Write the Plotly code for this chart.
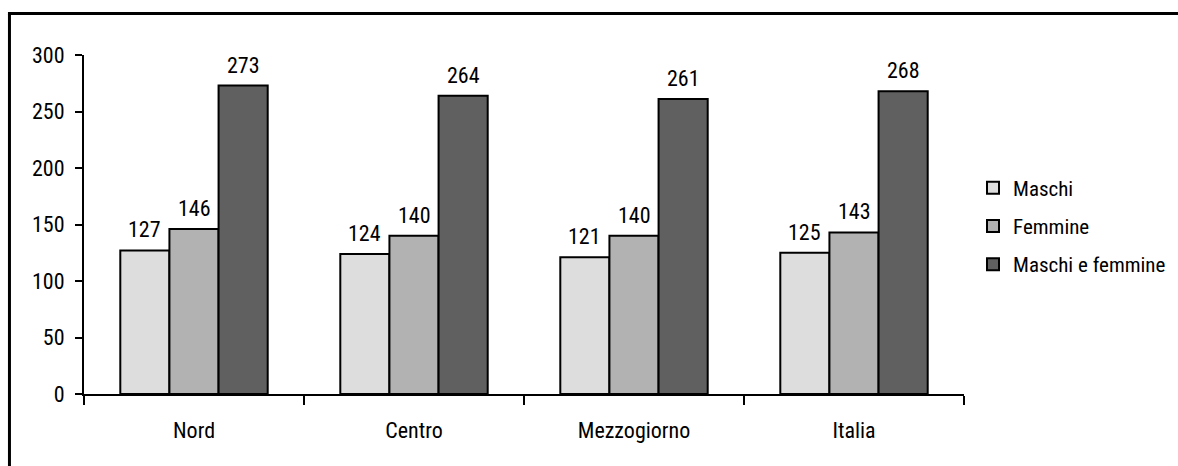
import plotly.graph_objects as go

# Dati per area geografica
aree = ["Nord", "Centro", "Mezzogiorno", "Italia"]
maschi = [127, 124, 121, 125]
femmine = [146, 140, 140, 143]
maschi_e_femmine = [273, 264, 261, 268]

serie = [
    ("Maschi", maschi, "#DDDDDD"),
    ("Femmine", femmine, "#B2B2B2"),
    ("Maschi e femmine", maschi_e_femmine, "#606060"),
]

FONT = "Liberation Sans Narrow, Arial Narrow, Roboto Condensed, Arial, sans-serif"
BARGAP = 0.33

fig = go.Figure()
for i, (nome, valori, colore) in enumerate(serie):
    fig.add_trace(go.Bar(
        name=nome, x=aree, y=valori,
        marker=dict(color=colore, line=dict(color="black", width=2)),
        legendgroup=nome,
    ))

# Etichette dei valori sopra le barre
n = len(serie)
bar_w = (1 - BARGAP) / n
for k, (nome, valori, colore) in enumerate(serie):
    for i, v in enumerate(valori):
        fig.add_annotation(
            x=i + (k - (n - 1) / 2) * bar_w, y=v, xref="x", yref="y",
            text=str(v), showarrow=False, yanchor="bottom", yshift=6,
            font=dict(family=FONT, size=22, color="black"),
        )

# Cornice esterna
fig.add_shape(type="line", xref="paper", yref="paper",
              x0=-0.0847, x1=-0.0847, y0=1.1224, y1=-0.3,
              line=dict(color="black", width=3))
fig.add_shape(type="line", xref="paper", yref="paper",
              x0=-0.0864, x1=1.3, y0=1.1224, y1=1.1224,
              line=dict(color="black", width=3))

fig.update_layout(
    width=1178, height=466,
    margin=dict(l=84, r=214, t=55, b=72, autoexpand=False),
    paper_bgcolor="white", plot_bgcolor="white",
    barmode="group", bargap=BARGAP, bargroupgap=0,
    font=dict(family=FONT, size=22, color="black"),
    showlegend=True,
    legend=dict(xref="container", yref="container",
                x=0.826, y=0.515, xanchor="left", yanchor="middle",
                tracegroupgap=8, font=dict(size=21),
                bgcolor="rgba(0,0,0,0)"),
    xaxis=dict(
        type="category", showline=True, linecolor="black", linewidth=2,
        ticks="outside", tickson="boundaries", ticklen=9, tickwidth=2,
        tickcolor="black", showgrid=False, zeroline=False,
        ticklabelstandoff=16,
    ),
    yaxis=dict(
        range=[0, 300], tickvals=[0, 50, 100, 150, 200, 250, 300],
        showline=True, linecolor="black", linewidth=2,
        ticks="outside", ticklen=7, tickwidth=2, tickcolor="black",
        showgrid=False, zeroline=False, ticklabelstandoff=6,
    ),
)

fig.write_html("out.html")
